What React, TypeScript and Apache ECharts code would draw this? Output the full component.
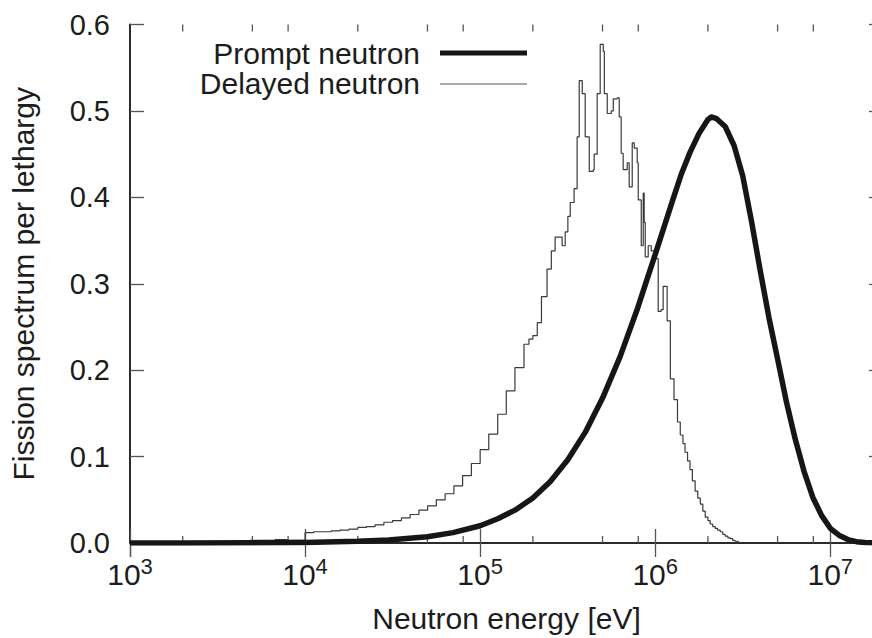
import React, { useEffect, useRef } from 'react';
import * as echarts from 'echarts';

// Prompt neutron fission spectrum per lethargy (energy in eV)
const PROMPT_E = [1e3, 2e3, 5e3, 1e4, 2e4, 3e4, 5e4, 7e4, 1e5, 1.26e5, 1.58e5, 2e5, 2.51e5, 3.16e5, 3.98e5, 5.01e5, 6.31e5, 7.94e5, 1e6, 1.26e6, 1.41e6, 1.58e6, 1.78e6, 2e6, 2.09e6, 2.24e6, 2.51e6, 2.82e6, 3.16e6, 3.55e6, 3.98e6, 4.47e6, 5.01e6, 5.62e6, 6.31e6, 7.08e6, 7.94e6, 8.91e6, 1e7, 1.12e7, 1.26e7, 1.41e7, 1.58e7, 2e7];
const PROMPT_V = [0, 0.0001, 0.0003, 0.0007, 0.0019, 0.0034, 0.0073, 0.012, 0.02, 0.028, 0.038, 0.052, 0.071, 0.096, 0.128, 0.168, 0.216, 0.272, 0.334, 0.397, 0.427, 0.452, 0.474, 0.490, 0.493, 0.491, 0.482, 0.460, 0.425, 0.372, 0.315, 0.26, 0.212, 0.163, 0.12, 0.083, 0.053, 0.032, 0.017, 0.009, 0.004, 0.0015, 0.0005, 0];

// Delayed neutron spectrum per lethargy (histogram, left bin edges in eV)
const DELAYED_E = [1e3, 4.85e3, 6.75e3, 7.9e3, 1e4, 1.12e4, 1.26e4, 1.41e4, 1.58e4, 1.78e4, 2e4, 2.24e4, 2.51e4, 2.82e4, 3.16e4, 3.55e4, 3.98e4, 4.47e4, 5.01e4, 5.62e4, 6.31e4, 7.08e4, 7.94e4, 8.91e4, 1e5, 1.12e5, 1.26e5, 1.41e5, 1.58e5, 1.78e5, 1.9e5, 2e5, 2.12e5, 2.24e5, 2.41e5, 2.55e5, 2.68e5, 2.94e5, 3.06e5, 3.17e5, 3.27e5, 3.44e5, 3.58e5, 3.68e5, 3.83e5, 3.98e5, 4.2e5, 4.43e5, 4.48e5, 4.66e5, 4.85e5, 5.05e5, 5.12e5, 5.32e5, 5.61e5, 5.76e5, 6.07e5, 6.23e5, 6.39e5, 6.56e5, 6.92e5, 7.1e5, 7.39e5, 7.59e5, 7.89e5, 8e5, 8.32e5, 8.54e5, 8.65e5, 8.77e5, 9.12e5, 9.49e5, 1e6, 1.04e6, 1.08e6, 1.11e6, 1.17e6, 1.22e6, 1.28e6, 1.34e6, 1.39e6, 1.44e6, 1.48e6, 1.53e6, 1.58e6, 1.63e6, 1.69e6, 1.75e6, 1.81e6, 1.87e6, 1.93e6, 2e6, 2.06e6, 2.13e6, 2.2e6, 2.27e6, 2.35e6, 2.43e6, 2.51e6, 2.6e6, 2.68e6, 2.77e6, 2.86e6, 2.98e6];
const DELAYED_V = [0, 0.003, 0.004, 0.003, 0.012, 0.013, 0.013, 0.014, 0.015, 0.016, 0.018, 0.019, 0.021, 0.024, 0.026, 0.029, 0.033, 0.038, 0.043, 0.05, 0.057, 0.066, 0.078, 0.092, 0.108, 0.126, 0.149, 0.176, 0.203, 0.23, 0.236, 0.24, 0.255, 0.285, 0.317, 0.338, 0.354, 0.344, 0.36, 0.378, 0.394, 0.41, 0.47, 0.535, 0.52, 0.47, 0.43, 0.432, 0.45, 0.52, 0.577, 0.569, 0.52, 0.497, 0.5, 0.514, 0.515, 0.493, 0.451, 0.432, 0.44, 0.412, 0.463, 0.457, 0.44, 0.397, 0.344, 0.405, 0.371, 0.331, 0.344, 0.338, 0.329, 0.268, 0.27, 0.297, 0.257, 0.19, 0.166, 0.14, 0.125, 0.115, 0.105, 0.095, 0.085, 0.072, 0.06, 0.052, 0.045, 0.037, 0.03, 0.026, 0.022, 0.019, 0.017, 0.015, 0.013, 0.01, 0.008, 0.006, 0.005, 0.003, 0.002, 0];

const X_MINOR_TICKS = [2e3, 5e3, 8e3, 2e4, 5e4, 8e4, 2e5, 5e5, 8e5, 2e6, 5e6, 8e6];
const SERIES_NAMES = ['Prompt neutron', 'Delayed neutron'];
const X_TITLE = 'Neutron energy [eV]';
const Y_TITLE = 'Fission spectrum per lethargy';

const FONT = '"Liberation Sans", Arial, Helvetica, sans-serif';
const TEXT = '#1c1c1c';
const AXIS = '#2b2b2b';
const TICK = '#555555';

export default function App() {
  const ref = useRef<HTMLDivElement>(null);
  useEffect(() => {
    const chart = echarts.init(ref.current!, null, { renderer: 'svg' });
    const prompt = PROMPT_E.map((e, i) => [e, PROMPT_V[i]]);
    const delayed = DELAYED_E.map((e, i) => [e, DELAYED_V[i]]);
    const minor = X_MINOR_TICKS.map((e) => [e, 0]);
    chart.setOption({
      animation: false,
      backgroundColor: '#ffffff',
      textStyle: { fontFamily: FONT },
      grid: { left: 130, top: 24.5, width: 753, height: 522.5, containLabel: false },
      xAxis: [
        {
          type: 'log',
          logBase: 10,
          min: 1e3,
          max: 2e7,
          position: 'bottom',
          name: X_TITLE,
          nameLocation: 'middle',
          nameGap: 60,
          nameTextStyle: { fontSize: 30, color: TEXT, fontFamily: FONT },
          axisLine: { show: true, lineStyle: { color: AXIS, width: 2 } },
          axisTick: { show: true, inside: true, length: 14, lineStyle: { color: TICK, width: 1.3 } },
          splitLine: { show: false },
          axisLabel: {
            show: true,
            margin: 16,
            showMaxLabel: false,
            color: TEXT,
            fontSize: 30,
            fontFamily: FONT,
            formatter: (v: number) => `{b|10}{sup|${Math.round(Math.log10(v))}}`,
            rich: {
              b: { fontSize: 30, lineHeight: 30, fontFamily: FONT, color: TEXT, verticalAlign: 'bottom' },
              sup: { fontSize: 22, lineHeight: 22, fontFamily: FONT, color: TEXT, verticalAlign: 'bottom', padding: [0, 0, 12, 0] },
            },
          },
        },
        {
          type: 'log',
          logBase: 10,
          min: 1e3,
          max: 2e7,
          position: 'top',
          axisLine: { show: true, lineStyle: { color: AXIS, width: 2 } },
          axisTick: { show: true, inside: true, length: 14, lineStyle: { color: TICK, width: 1.3 } },
          axisLabel: { show: false },
          splitLine: { show: false },
        },
      ],
      yAxis: [
        {
          type: 'value',
          min: 0,
          max: 0.6,
          interval: 0.1,
          position: 'left',
          name: Y_TITLE,
          nameLocation: 'middle',
          nameGap: 92,
          nameTextStyle: { fontSize: 30, color: TEXT, fontFamily: FONT },
          axisLine: { show: true, lineStyle: { color: AXIS, width: 2 } },
          axisTick: { show: true, inside: true, length: 14, lineStyle: { color: TICK, width: 1.3 } },
          splitLine: { show: false },
          axisLabel: {
            margin: 20,
            color: TEXT,
            fontSize: 29,
            fontFamily: FONT,
            formatter: (v: number) => v.toFixed(1),
          },
        },
        {
          type: 'value',
          min: 0,
          max: 0.6,
          interval: 0.1,
          position: 'right',
          axisLine: { show: true, lineStyle: { color: AXIS, width: 2 } },
          axisTick: { show: true, inside: true, length: 14, lineStyle: { color: TICK, width: 1.3 } },
          axisLabel: { show: false },
          splitLine: { show: false },
        },
      ],
      series: [
        {
          type: 'custom',
          name: 'minor ticks',
          xAxisIndex: 0,
          yAxisIndex: 0,
          silent: true,
          clip: false,
          data: minor,
          renderItem: (params: any, api: any) => {
            const x = api.coord([api.value(0), 0])[0];
            const cs = params.coordSys;
            const style = { stroke: TICK, lineWidth: 1.3 };
            return {
              type: 'group',
              children: [
                { type: 'line', shape: { x1: x, y1: cs.y + cs.height, x2: x, y2: cs.y + cs.height - 7 }, style },
                { type: 'line', shape: { x1: x, y1: cs.y, x2: x, y2: cs.y + 7 }, style },
              ],
            };
          },
        },
        {
          type: 'line',
          name: SERIES_NAMES[1],
          data: delayed,
          step: 'end',
          showSymbol: false,
          symbol: 'none',
          lineStyle: { color: '#3a3a3a', width: 1.2 },
          z: 3,
        },
        {
          type: 'line',
          name: SERIES_NAMES[0],
          data: prompt,
          showSymbol: false,
          symbol: 'none',
          lineStyle: { color: '#161616', width: 5.5, join: 'round' },
          z: 4,
        },
      ],
      graphic: [
        {
          type: 'text',
          x: 420,
          y: 53,
          style: { text: SERIES_NAMES[0], fontSize: 30, fontFamily: FONT, fill: TEXT, align: 'right', verticalAlign: 'middle' },
        },
        {
          type: 'text',
          x: 420,
          y: 83,
          style: { text: SERIES_NAMES[1], fontSize: 30, fontFamily: FONT, fill: TEXT, align: 'right', verticalAlign: 'middle' },
        },
        {
          type: 'line',
          shape: { x1: 440, y1: 53, x2: 527, y2: 53 },
          style: { stroke: '#161616', lineWidth: 5 },
        },
        {
          type: 'line',
          shape: { x1: 440, y1: 84, x2: 527, y2: 84 },
          style: { stroke: '#555555', lineWidth: 1.2 },
        },
      ],
    });
    return () => chart.dispose();
  }, []);
  return (
    <div
      ref={ref}
      style={{ position: 'fixed', left: 0, top: 0, width: 900, height: 638, background: '#fff' }}
    />
  );
}
